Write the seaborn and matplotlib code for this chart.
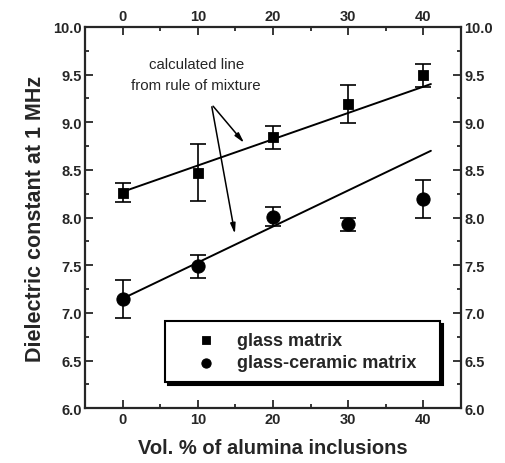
import matplotlib
matplotlib.use("Agg")
import matplotlib.pyplot as plt
import seaborn as sns
import numpy as np
import pandas as pd
from matplotlib.ticker import MultipleLocator

sns.set_style("ticks")
plt.rcParams['font.family'] = ['Liberation Sans', 'DejaVu Sans']
plt.rcParams['font.weight'] = 'bold'

vol = [0, 10, 20, 30, 40]
glass = [8.26, 8.47, 8.84, 9.19, 9.49]
glass_err = [0.10, 0.30, 0.12, 0.20, 0.12]
ceramic = [7.15, 7.49, 8.01, 7.93, 8.19]
ceramic_err = [0.20, 0.12, 0.10, 0.07, 0.20]
calc_x = [0, 41]
glass_calc = [8.27, 9.40]
ceramic_calc = [7.15, 8.70]

fig = plt.figure(figsize=(5.06, 4.64), dpi=100)
ax = fig.add_axes([0.168, 0.118, 0.743, 0.822])

sns.lineplot(x=calc_x, y=glass_calc, ax=ax, color='black', lw=1.4, legend=False)
sns.lineplot(x=calc_x, y=ceramic_calc, ax=ax, color='black', lw=1.4, legend=False)

ax.errorbar(vol, glass, yerr=glass_err, fmt='none', ecolor='black', capsize=6, elinewidth=1.2, capthick=1.2)
ax.errorbar(vol, ceramic, yerr=ceramic_err, fmt='none', ecolor='black', capsize=6, elinewidth=1.2, capthick=1.2)

sns.scatterplot(x=vol, y=glass, ax=ax, marker='s', s=55, color='black', edgecolor='black', label='glass matrix', zorder=5)
sns.scatterplot(x=vol, y=ceramic, ax=ax, marker='o', s=90, color='black', edgecolor='black', label='glass-ceramic matrix', zorder=5)

ax.set_xlim(-5, 45)
ax.set_ylim(6.0, 10.0)
ax.xaxis.set_major_locator(MultipleLocator(10))
ax.xaxis.set_minor_locator(MultipleLocator(5))
ax.yaxis.set_major_locator(MultipleLocator(0.5))
ax.yaxis.set_minor_locator(MultipleLocator(0.25))
ax.yaxis.set_major_formatter(matplotlib.ticker.FormatStrFormatter('%.1f'))
ax.tick_params(which='both', direction='in', top=True, right=True,
               labeltop=True, labelright=True, width=1.3)
ax.tick_params(which='major', length=6, labelsize=10.5, pad=2.5)
ax.tick_params(which='minor', length=3)
for lab in ax.get_xticklabels() + ax.get_yticklabels():
    lab.set_fontweight('bold')
for sp in ax.spines.values():
    sp.set_linewidth(1.6)
    sp.set_visible(True)

ax.set_xlabel('Vol. % of alumina inclusions', fontsize=14.5, fontweight='bold', labelpad=9)
ax.set_ylabel('Dielectric constant at 1 MHz', fontsize=15.5, fontweight='bold', labelpad=5)

ax.text(9.8, 9.5, 'calculated line\nfrom rule of mixture', ha='center', va='center',
        fontsize=10.8, fontweight='normal', linespacing=1.55)
ax.annotate('', xy=(16.4, 8.76), xytext=(11.8, 9.19),
            arrowprops=dict(arrowstyle='-|>,head_length=0.6,head_width=0.15', color='black', lw=1.1))
ax.annotate('', xy=(15.0, 7.8), xytext=(11.8, 9.19),
            arrowprops=dict(arrowstyle='-|>,head_length=0.6,head_width=0.15', color='black', lw=1.1))

leg = ax.legend(loc='lower left', bbox_to_anchor=(0.213, 0.068, 0.731, 0.17), mode='expand',
                frameon=True, fancybox=False, shadow={'color': 'black', 'alpha': 1},
                edgecolor='black', borderaxespad=0, borderpad=0.6, markerscale=0.7,
                handlelength=3.3, handletextpad=0.1, labelspacing=0.3,
                prop={'weight': 'bold', 'size': 13})
leg.get_frame().set_linewidth(1.5)
leg.get_frame().set_alpha(1)

fig.savefig('out.png', dpi=100)
